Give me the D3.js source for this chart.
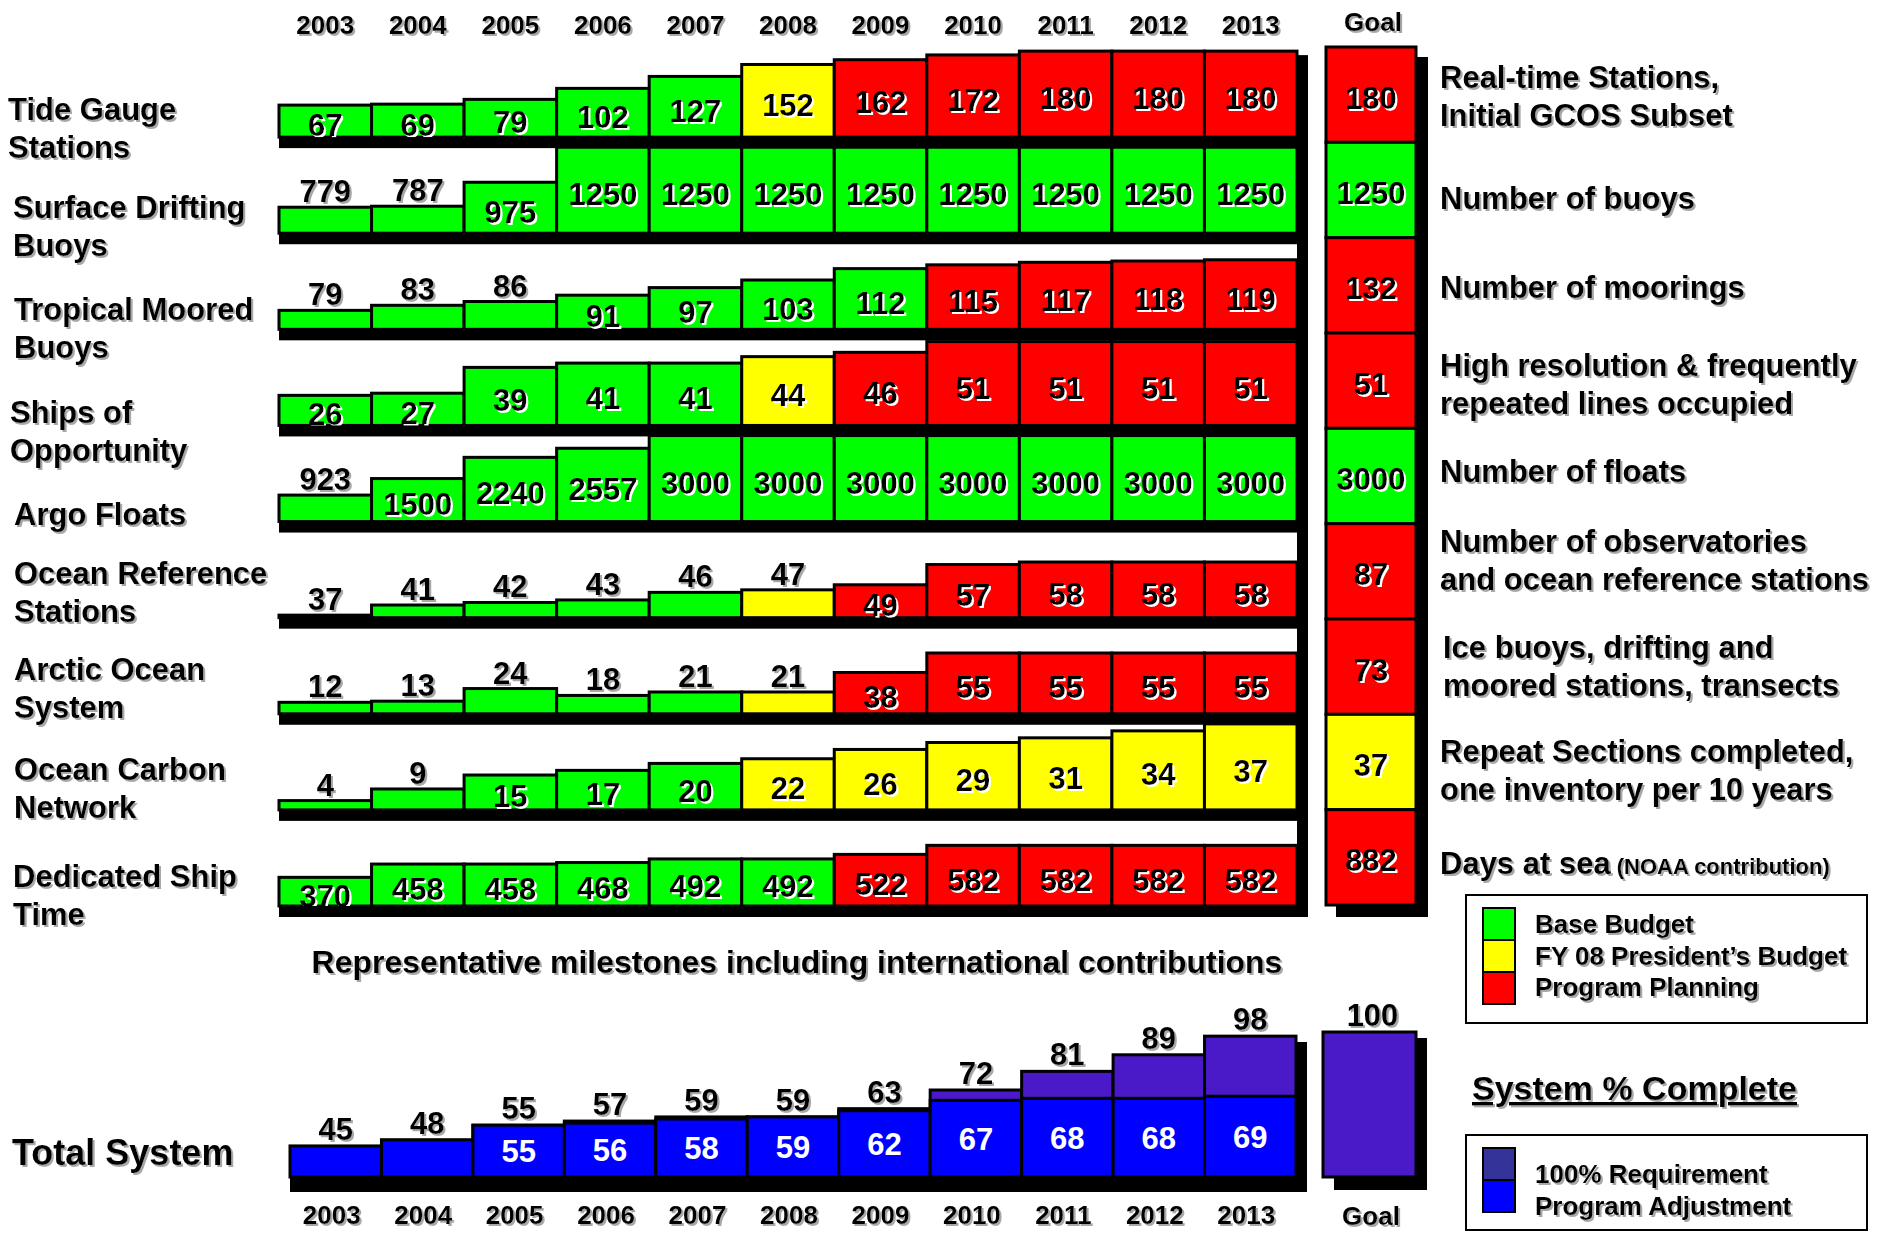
<!DOCTYPE html>
<html><head><meta charset="utf-8">
<script src="https://cdn.jsdelivr.net/npm/d3@7/dist/d3.min.js"></script>
<style>
html,body{margin:0;padding:0;background:#fff;}
svg{display:block;}
text{font-family:"Liberation Sans",Arial,Helvetica,sans-serif;font-weight:bold;fill:#000;}
</style></head><body>
<svg id="chart" width="1884" height="1233"></svg>
<script>
// ---------------- DATA ----------------
const years = ["2003","2004","2005","2006","2007","2008","2009","2010","2011","2012","2013"];
const rowNames = ["tide","drifting","tropical","ships","argo","oceanRef","arctic","carbon","shipTime"];
const rowLabels = [["Tide Gauge","Stations"],["Surface Drifting","Buoys"],["Tropical Moored","Buoys"],["Ships of","Opportunity"],["Argo Floats"],["Ocean Reference","Stations"],["Arctic Ocean","System"],["Ocean Carbon","Network"],["Dedicated Ship","Time"]];
const goalNotes = [["Real-time Stations,","Initial GCOS Subset"],["Number of buoys"],["Number of moorings"],["High resolution & frequently","repeated lines occupied"],["Number of floats"],["Number of observatories","and ocean reference stations"],["Ice buoys, drifting and","moored stations, transects"],["Repeat Sections completed,","one inventory per 10 years"],["Days at sea"]];

const tideGauge      = [67,69,79,102,127,152,162,172,180,180,180];
const surfaceDrifting= [779,787,975,1250,1250,1250,1250,1250,1250,1250,1250];
const tropicalMoored = [79,83,86,91,97,103,112,115,117,118,119];
const shipsOpp       = [26,27,39,41,41,44,46,51,51,51,51];
const argoFloats     = [923,1500,2240,2557,3000,3000,3000,3000,3000,3000,3000];
const oceanReference = [37,41,42,43,46,47,49,57,58,58,58];
const arcticOcean    = [12,13,24,18,21,21,38,55,55,55,55];
const oceanCarbon    = [4,9,15,17,20,22,26,29,31,34,37];
const shipTime       = [370,458,458,468,492,492,522,582,582,582,582];

// funding status per cell: B = Base Budget, P = FY 08 President's Budget, R = Program Planning
const tideStatus     = "BBBBBPRRRRR".split("");
const driftStatus    = "BBBBBBBBBBB".split("");
const tropicalStatus = "BBBBBBBRRRR".split("");
const shipsStatus    = "BBBBBPRRRRR".split("");
const argoStatus     = "BBBBBBBBBBB".split("");
const oceanRefStatus = "BBBBBPRRRRR".split("");
const arcticStatus   = "BBBBBPRRRRR".split("");
const carbonStatus   = "BBBBBPPPPPP".split("");
const shipTimeStatus = "BBBBBBRRRRR".split("");

const goalValues = [180,1250,132,51,3000,87,73,37,882];
const goalStatus = ["R","B","R","R","B","R","R","P","R"];

// per-row value axis limits (each row has its own truncated value axis)
const rowAxisMin = [0,575,64,12,0,36,2,0,180];
const rowAxisMax = [180,1250,132,52,3000,70,77,37,750];

// Total system (% complete)
const totalRequirement  = [45,48,55,57,59,59,63,72,81,89,98];
const programAdjustment = [null,null,55,56,58,59,62,67,68,68,69];
const totalGoal = 100;

const legendItems = [["B","Base Budget"],["P","FY 08 President\u2019s Budget"],["R","Program Planning"]];
const legendItems2 = [["req","100% Requirement"],["adj","Program Adjustment"]];

// ---------------- LAYOUT / STYLE ----------------
const colorOf = {B:"#00FF00", P:"#FFFF00", R:"#FF0000", req:"#333399", adj:"#0000FF", reqBar:"#4A1AC8"};
const leftLabelCY = [128,226,328,431,514,592,688,788,895];
const leftLabelX  = [8,13,14,10,14,14,14,14,13];
const rightLabelCY = [96,198,287,384,471,560,666,770,863];

const rowsValues = [tideGauge,surfaceDrifting,tropicalMoored,shipsOpp,argoFloats,oceanReference,arcticOcean,oceanCarbon,shipTime];
const rowsStatus = [tideStatus,driftStatus,tropicalStatus,shipsStatus,argoStatus,oceanRefStatus,arcticStatus,carbonStatus,shipTimeStatus];

const svg = d3.select("#chart");
const defs = svg.append("defs");
function shadow(id, color){
  const f = defs.append("filter").attr("id",id).attr("x","-10%").attr("y","-20%").attr("width","130%").attr("height","160%");
  f.append("feDropShadow").attr("dx",2).attr("dy",2).attr("stdDeviation",0.5).attr("flood-color",color).attr("flood-opacity",1);
}
shadow("sg","#a8a8a8");
shadow("sw","#ffffff");

const FS = 31;
const x = d3.scaleBand().domain(years).range([279,1297]);
const rowBand = d3.scaleBand().domain(rowNames).range([52,917]);
const BASE = 11, FULL = 86;

// top year labels
svg.append("g").attr("filter","url(#sg)").selectAll("text").data(years).join("text")
  .attr("x",d=>x(d)+x.bandwidth()/2).attr("y",34).attr("text-anchor","middle")
  .style("font-size","26px").text(d=>d);

// right black bar of main panel
const topRowBase = rowBand(rowNames[0])+rowBand.bandwidth()-BASE;
const topScale0 = d3.scaleLinear().domain([rowAxisMin[0],rowAxisMax[0]]).range([0,FULL]);
svg.append("rect").attr("x",1297).attr("y",topRowBase-topScale0(tideGauge[10])+4)
  .attr("width",11).attr("height",917-(topRowBase-topScale0(tideGauge[10])+4)).attr("fill","#000");

rowNames.forEach((name,i)=>{
  const base = rowBand(name)+rowBand.bandwidth()-BASE;
  const h = d3.scaleLinear().domain([rowAxisMin[i],rowAxisMax[i]]).range([0,FULL]).clamp(true);
  const data = years.map((yr,j)=>({yr, v:rowsValues[i][j], s:rowsStatus[i][j]}));
  const g = svg.append("g");
  g.selectAll("rect").data(data).join("rect")
    .attr("x",d=>x(d.yr)).attr("y",d=>base-h(d.v))
    .attr("width",x.bandwidth()).attr("height",d=>h(d.v))
    .attr("fill",d=>colorOf[d.s]).attr("stroke","#000").attr("stroke-width",3);
  const inside = d=>h(d.v)>=28;
  g.selectAll("text").data(data).join("text")
    .attr("x",d=>x(d.yr)+x.bandwidth()/2)
    .attr("y",d=>inside(d)? base-h(d.v)/2+15 : base-h(d.v)-5)
    .attr("text-anchor","middle").style("font-size",FS+"px")
    .attr("filter",d=>inside(d)?"url(#sw)":"url(#sg)")
    .text(d=>d.v);
  // shadow base
  svg.append("rect").attr("x",279).attr("y",base).attr("width",1308-279).attr("height",BASE).attr("fill","#000");
});

// goal column
const gy = d3.scaleBand().domain(rowNames).range([47,905]);
const GX = 1326, GW = 90;
svg.append("rect").attr("x",GX+10).attr("y",gy(rowNames[0])+10).attr("width",GW+2).attr("height",905-47+2).attr("fill","#000");
svg.append("g").selectAll("rect").data(rowNames).join("rect")
  .attr("x",GX).attr("y",d=>gy(d)).attr("width",GW).attr("height",gy.bandwidth())
  .attr("fill",(d,i)=>colorOf[goalStatus[i]]).attr("stroke","#000").attr("stroke-width",3);
svg.append("g").attr("filter","url(#sw)").selectAll("text").data(rowNames).join("text")
  .attr("x",GX+GW/2).attr("y",d=>gy(d)+gy.bandwidth()/2+14).attr("text-anchor","middle")
  .style("font-size",FS+"px").text((d,i)=>goalValues[i]);
svg.append("text").attr("x",GX+GW/2+2).attr("y",31).attr("text-anchor","middle").attr("filter","url(#sg)")
  .style("font-size","26px").text("Goal");

// left row labels
const gl = svg.append("g").attr("filter","url(#sg)");
rowLabels.forEach((lines,i)=>{
  const n = lines.length;
  lines.forEach((t,k)=>{
    gl.append("text").attr("x",leftLabelX[i]).attr("y",leftLabelCY[i]+(k-(n-1)/2)*38+11)
      .style("font-size",FS+"px").text(t);
  });
});
// right notes
const gr = svg.append("g").attr("filter","url(#sg)");
goalNotes.forEach((lines,i)=>{
  const n = lines.length;
  lines.forEach((t,k)=>{
    const tx = gr.append("text").attr("x",i===6?1443:1440).attr("y",rightLabelCY[i]+(k-(n-1)/2)*38+11)
      .style("font-size",FS+"px").text(t);
    if(i===8){ tx.append("tspan").style("font-size","22px").text(" (NOAA contribution)"); }
  });
});

// legend 1
svg.append("rect").attr("x",1466).attr("y",895).attr("width",401).attr("height",128).attr("fill","none").attr("stroke","#000").attr("stroke-width",2);
legendItems.forEach((d,k)=>{
  svg.append("rect").attr("x",1483).attr("y",908+k*32).attr("width",32).attr("height",32)
    .attr("fill",colorOf[d[0]]).attr("stroke","#000").attr("stroke-width",2);
  svg.append("text").attr("x",1535).attr("y",933+k*31.5).attr("filter","url(#sg)").style("font-size","26px").text(d[1]);
});

// subtitle
svg.append("text").attr("x",797).attr("y",973).attr("text-anchor","middle").attr("filter","url(#sg)")
  .style("font-size","32px").text("Representative milestones including international contributions");

// System % Complete
svg.append("text").attr("x",1472).attr("y",1100).attr("filter","url(#sg)").style("font-size","34px")
  .style("text-decoration","underline").text("System % Complete");

// legend 2
svg.append("rect").attr("x",1466).attr("y",1135).attr("width",401).attr("height",95).attr("fill","none").attr("stroke","#000").attr("stroke-width",2);
legendItems2.forEach((d,k)=>{
  svg.append("rect").attr("x",1483).attr("y",1148+k*32).attr("width",32).attr("height",32)
    .attr("fill",colorOf[d[0]]).attr("stroke","#000").attr("stroke-width",2);
  svg.append("text").attr("x",1535).attr("y",1183+k*32).attr("filter","url(#sg)").style("font-size","26px").text(d[1]);
});

// ---------------- TOTAL SYSTEM ----------------
const xb = d3.scaleBand().domain(years).range([290,1296]);
const yb = d3.scaleLinear().domain([30,100]).range([0,145]);
const BB = 1177;
const tot = years.map((yr,j)=>({yr, t:totalRequirement[j], a:programAdjustment[j]}));
// right bar shadow
svg.append("rect").attr("x",1296).attr("y",BB-yb(totalGoal)+10).attr("width",11).attr("height",1192-(BB-yb(totalGoal)+10)).attr("fill","#000");
const gb = svg.append("g");
gb.selectAll("rect.req").data(tot).join("rect").attr("class","req")
  .attr("x",d=>xb(d.yr)).attr("y",d=>BB-yb(d.t)).attr("width",xb.bandwidth()).attr("height",d=>yb(d.t))
  .attr("fill",d=>d.a===null?colorOf.adj:colorOf.reqBar).attr("stroke","#000").attr("stroke-width",3);
gb.selectAll("rect.adj").data(tot.filter(d=>d.a!==null)).join("rect").attr("class","adj")
  .attr("x",d=>xb(d.yr)).attr("y",d=>BB-yb(d.a)).attr("width",xb.bandwidth()).attr("height",d=>yb(d.a))
  .attr("fill",colorOf.adj).attr("stroke","#000").attr("stroke-width",3);
svg.append("rect").attr("x",290).attr("y",BB).attr("width",1307-290).attr("height",15).attr("fill","#000");
svg.append("g").attr("filter","url(#sg)").selectAll("text").data(tot).join("text")
  .attr("x",d=>xb(d.yr)+xb.bandwidth()/2).attr("y",d=>BB-yb(d.t)-6).attr("text-anchor","middle")
  .style("font-size",FS+"px").text(d=>d.t);
svg.append("g").selectAll("text").data(tot.filter(d=>d.a!==null)).join("text")
  .attr("x",d=>xb(d.yr)+xb.bandwidth()/2).attr("y",d=>BB-yb(d.a)/2+11).attr("text-anchor","middle")
  .style("font-size",FS+"px").style("fill","#fff").text(d=>d.a);
// goal bar
const BGX = 1323, BGW = 93;
svg.append("rect").attr("x",BGX+11).attr("y",BB-yb(totalGoal)+6).attr("width",BGW).attr("height",yb(totalGoal)+7).attr("fill","#000");
svg.append("rect").attr("x",BGX).attr("y",BB-yb(totalGoal)).attr("width",BGW).attr("height",yb(totalGoal))
  .attr("fill",colorOf.reqBar).attr("stroke","#000").attr("stroke-width",3);
svg.append("text").attr("x",BGX+BGW/2+3).attr("y",BB-yb(totalGoal)-6).attr("text-anchor","middle").attr("filter","url(#sg)")
  .style("font-size",FS+"px").text(totalGoal);
// bottom years
svg.append("g").attr("filter","url(#sg)").selectAll("text").data(years).join("text")
  .attr("x",d=>xb(d)+xb.bandwidth()/2-4).attr("y",1224).attr("text-anchor","middle")
  .style("font-size","26px").text(d=>d);
svg.append("text").attr("x",1371).attr("y",1225).attr("text-anchor","middle").attr("filter","url(#sg)")
  .style("font-size","26px").text("Goal");
svg.append("text").attr("x",12).attr("y",1165).attr("filter","url(#sg)").style("font-size","36px").text("Total System");
</script>
</body></html>
